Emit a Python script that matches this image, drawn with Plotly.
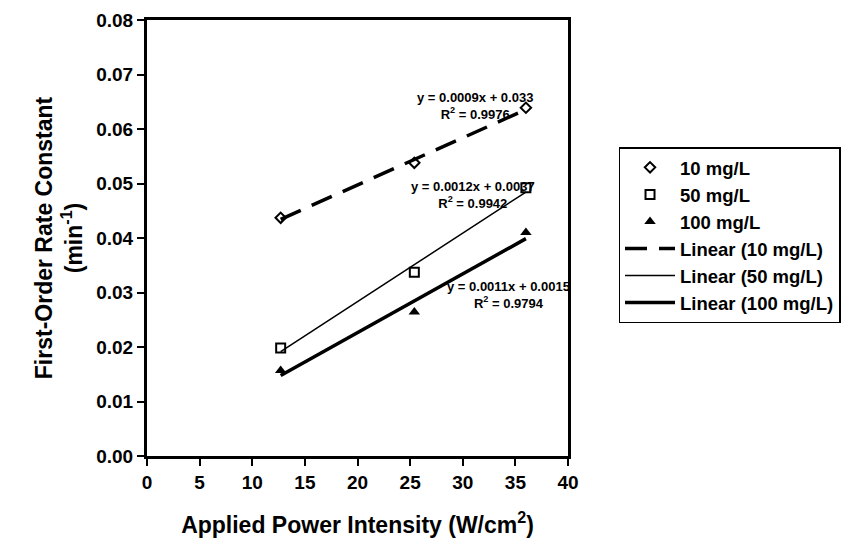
import numpy as np
import plotly.graph_objects as go

x_power = [12.7, 25.4, 36.0]
k_10 = [0.0437, 0.0538, 0.0639]
k_50 = [0.0198, 0.0337, 0.0492]
k_100 = [0.0157, 0.0264, 0.0410]

eq_text = [
    "y = 0.0009x + 0.033<br>R<sup>2</sup> = 0.9976",
    "y = 0.0012x + 0.0037<br>R<sup>2</sup> = 0.9942",
    "y = 0.0011x + 0.0015<br>R<sup>2</sup> = 0.9794",
]
eq_pos = [(31.2, 0.0642), (31.0, 0.0479), (34.3, 0.0295)]

font = "Liberation Sans, Arial, sans-serif"
fig = go.Figure()

fig.add_trace(go.Scatter(x=x_power, y=k_10, mode="markers", name="<b>10 mg/L</b>",
                         marker=dict(symbol="diamond-open", size=8, color="black", line=dict(width=2))))
fig.add_trace(go.Scatter(x=x_power, y=k_50, mode="markers", name="<b>50 mg/L</b>",
                         marker=dict(symbol="square-open", size=9, color="black", line=dict(width=2))))
fig.add_trace(go.Scatter(x=x_power, y=k_100, mode="markers", name="<b>100 mg/L</b>",
                         marker=dict(symbol="triangle-up", size=10, color="black")))

xa = np.array(x_power)
styles = [(k_10, "<b>Linear (10 mg/L)</b>", dict(color="black", width=3.5, dash="22px,12px")),
          (k_50, "<b>Linear (50 mg/L)</b>", dict(color="black", width=1.5)),
          (k_100, "<b>Linear (100 mg/L)</b>", dict(color="black", width=3.5))]
for ys, nm, ln in styles:
    m, b = np.polyfit(xa, np.array(ys), 1)
    xs = [xa.min(), xa.max()]
    fig.add_trace(go.Scatter(x=xs, y=[m * v + b for v in xs], mode="lines", name=nm, line=ln))

for txt, (ax, ay) in zip(eq_text, eq_pos):
    fig.add_annotation(x=ax, y=ay, xref="x", yref="y", text="<b>" + txt + "</b>",
                       showarrow=False, align="center",
                       font=dict(family=font, size=13, color="black"))

fig.update_layout(
    width=854, height=538,
    margin=dict(l=147, r=286, t=20, b=82, autoexpand=False),
    paper_bgcolor="white", plot_bgcolor="white",
    font=dict(family=font, color="black"),
    showlegend=True,
    legend=dict(x=1.12, y=0.708, xanchor="left", yanchor="top",
                bordercolor="black", borderwidth=1.5, bgcolor="white",
                font=dict(family=font, size=18.5, color="black"),
                tracegroupgap=0, itemwidth=50),
    xaxis=dict(range=[0, 40], dtick=5, showgrid=False, zeroline=False, automargin=False,
               showline=True, linecolor="black", linewidth=3, mirror=True,
               ticks="outside", ticklen=7, tickwidth=2, tickcolor="black",
               tickprefix="<b>", ticksuffix="</b>",
               tickfont=dict(family=font, size=19, color="black"),
               title=dict(text="<b>Applied Power Intensity (W/cm<sup>2</sup>)</b>",
                          font=dict(family=font, size=23, color="black"), standoff=26)),
    yaxis=dict(range=[0, 0.08], dtick=0.01, tickformat=".2f", showgrid=False, zeroline=False,
               automargin=False,
               showline=True, linecolor="black", linewidth=3, mirror=True,
               ticks="outside", ticklen=7, tickwidth=2, tickcolor="black",
               tickprefix="<b>", ticksuffix="</b>",
               tickfont=dict(family=font, size=19, color="black"),
               title=dict(text="<b>First-Order Rate Constant<br>(min<sup>-1</sup>)</b>",
                          font=dict(family=font, size=23, color="black"), standoff=8)),
)

fig.write_html("out.html")
